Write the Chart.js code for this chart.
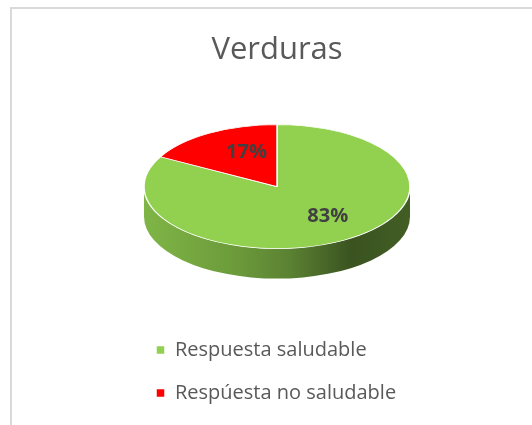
<!doctype html>
<html>

<head>
	<meta charset="utf-8">
	<title>Verduras</title>
	<script src="https://cdn.jsdelivr.net/npm/chart.js@4.4.0/dist/chart.umd.min.js"></script>
	<style>
		html, body {
			margin: 0;
			padding: 0;
			background: #fff;
			overflow: hidden;
		}
		canvas {
			display: block;
		}
	</style>
</head>

<body>
	<canvas id="chart-area" width="532" height="425"></canvas>
	<script>
		const chartTitle = 'Verduras';
		const categories = ['Respuesta saludable', 'Respúesta no saludable'];
		const values = [83, 17];
		const sliceColors = ['#92D050', '#FF0000'];

		// 3d look: vertical squash of the pie plus a shaded rim
		const tilt = 0.466;
		const depth = 30;
		const sideShade = [[0, 0.87], [0.35, 0.74], [0.55, 0.62], [0.78, 0.40], [1, 0.45]];

		const shade = function(hex, f) {
			const n = parseInt(hex.slice(1), 16);
			const r = Math.round(((n >> 16) & 255) * f);
			const g = Math.round(((n >> 8) & 255) * f);
			const b = Math.round((n & 255) * f);
			return 'rgb(' + r + ',' + g + ',' + b + ')';
		};

		const framePlugin = {
			id: 'frame',
			beforeDraw(chart) {
				const ctx = chart.ctx;
				ctx.save();
				ctx.fillStyle = '#fff';
				ctx.fillRect(0, 0, chart.width, chart.height);
				ctx.strokeStyle = '#d9d9d9';
				ctx.lineWidth = 2;
				ctx.strokeRect(11, 8, chart.width + 20, chart.height + 20);
				ctx.restore();
			}
		};

		const pie3d = {
			id: 'pie3d',
			beforeDatasetsDraw(chart) {
				const ctx = chart.ctx;
				const arcs = chart.getDatasetMeta(0).data;
				const cx = arcs[0].x;
				const cy = arcs[0].y;
				ctx.save();
				ctx.translate(cx, cy - depth / 2);
				ctx.scale(1, tilt);
				ctx.translate(-cx, -cy);
				const d = depth / tilt;
				arcs.forEach((arc, i) => {
					const r = arc.outerRadius;
					// only the front half of the rim can be seen
					[-2 * Math.PI, 0, 2 * Math.PI].forEach((base) => {
						const a1 = Math.max(arc.startAngle, base);
						const a2 = Math.min(arc.endAngle, base + Math.PI);
						if (a2 <= a1) {
							return;
						}
						const grad = ctx.createLinearGradient(cx - r, 0, cx + r, 0);
						sideShade.forEach(([stop, f]) => grad.addColorStop(stop, shade(sliceColors[i], f)));
						ctx.beginPath();
						ctx.arc(cx, cy, r, a1, a2, false);
						ctx.lineTo(cx + r * Math.cos(a2), cy + r * Math.sin(a2) + d);
						ctx.arc(cx, cy + d, r, a2, a1, true);
						ctx.closePath();
						ctx.fillStyle = grad;
						ctx.fill();
					});
				});
			},
			afterDatasetsDraw(chart) {
				const ctx = chart.ctx;
				ctx.restore();
				const arcs = chart.getDatasetMeta(0).data;
				const total = values.reduce((a, b) => a + b, 0);
				ctx.save();
				ctx.font = 'bold 20px "Open Sans"';
				ctx.fillStyle = '#404040';
				ctx.textAlign = 'center';
				ctx.textBaseline = 'middle';
				arcs.forEach((arc, i) => {
					const share = values[i] / total;
					const mid = (arc.startAngle + arc.endAngle) / 2;
					const f = share > 0.5 ? 0.75 : 0.45;
					const x = arc.x + f * arc.outerRadius * Math.cos(mid);
					const y = arc.y - depth / 2 + f * arc.outerRadius * tilt * Math.sin(mid) - 10;
					ctx.fillText(Math.round(share * 100) + '%', x, y);
				});
				ctx.restore();
			}
		};

		const config = {
			type: 'pie',
			data: {
				labels: categories,
				datasets: [{
					data: values,
					backgroundColor: sliceColors,
					borderColor: '#ffffff',
					borderWidth: 1.5,
					radius: 133,
					clip: false
				}]
			},
			options: {
				responsive: false,
				animation: false,
				events: [],
				layout: {
					padding: {top: 10, left: 133, right: 111, bottom: 12}
				},
				plugins: {
					title: {
						display: true,
						text: chartTitle,
						color: '#595959',
						font: {family: '"Open Sans"', size: 31, weight: 'normal'},
						padding: {top: 22, bottom: 17}
					},
					legend: {
						position: 'bottom',
						align: 'start',
						labels: {
							color: '#595959',
							font: {family: '"Open Sans"', size: 20},
							boxWidth: 9,
							boxHeight: 9,
							padding: 23
						}
					},
					tooltip: {enabled: false}
				}
			},
			plugins: [framePlugin, pie3d]
		};

		window.myPie = new Chart(document.getElementById('chart-area'), config);
	</script>
</body>

</html>
